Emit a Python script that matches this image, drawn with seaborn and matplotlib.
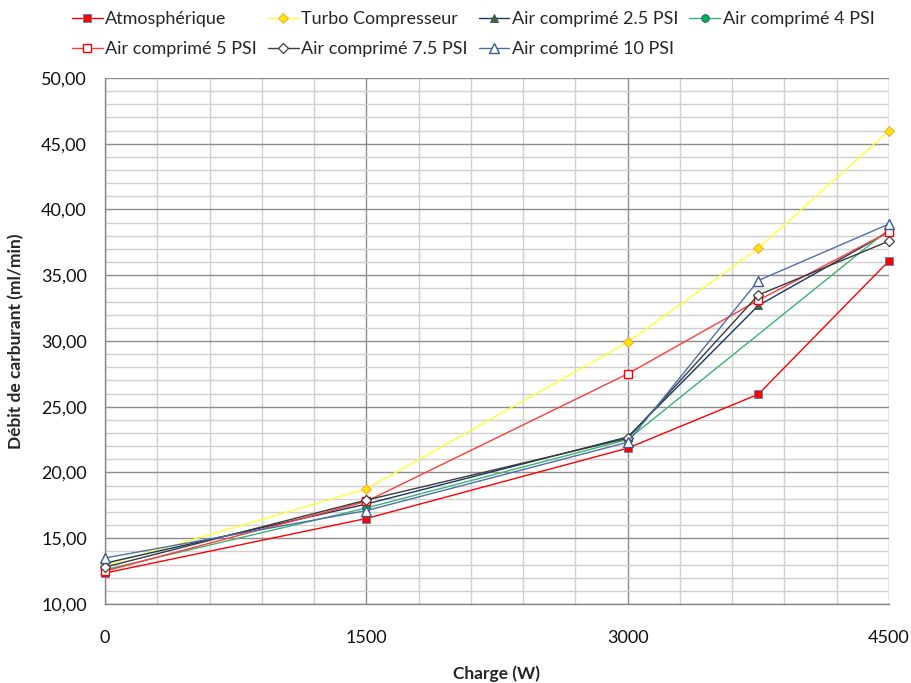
import matplotlib
matplotlib.use("Agg")
import matplotlib.pyplot as plt
from matplotlib.ticker import MultipleLocator, FuncFormatter
import seaborn as sns
import pandas as pd

# ---- data ----
charge = [0, 1500, 3000, 3750, 4500]
atmospherique = [12.35, 16.5, 21.85, 25.95, 36.1]
turbo = [12.95, 18.75, 29.9, 37.05, 46.0]
air_2_5 = [13.1, 17.6, 22.7, 32.7, 38.3]
charge_4 = [0, 1500, 3000, 4500]
air_4 = [12.6, 17.3, 22.5, 38.5]
air_5 = [12.5, 17.8, 27.5, 33.1, 38.3]
air_7_5 = [12.8, 17.9, 22.6, 33.5, 37.6]
air_10 = [13.5, 17.1, 22.3, 34.6, 38.9]

series_names = ["Atmosphérique", "Turbo Compresseur", "Air comprimé 2.5 PSI",
                "Air comprimé 4 PSI", "Air comprimé 5 PSI", "Air comprimé 7.5 PSI",
                "Air comprimé 10 PSI"]
x_ticks = [0, 1500, 3000, 4500]

sns.set_style("white")
plt.rcParams['font.family'] = ['Lato', 'DejaVu Sans']

fig = plt.figure(figsize=(9.12, 6.83), dpi=100)
ax = fig.add_axes([0.1151, 0.1157, 0.8597, 0.7701])

styles = [
    dict(color="#FF0000", marker="s", mfc="#FF0000", mec="#4F81BD", ms=6, mew=0.6),
    dict(color="#FFFF33", marker="D", mfc="#FFE600", mec="#F79646", ms=5, mew=0.6),
    dict(color="#17375E", marker="^", mfc="#4F6228", mec="#1F497D", ms=6, mew=0.6),
    dict(color="#3CB371", marker="o", mfc="#00B050", mec="#1F497D", ms=5.5, mew=0.6),
    dict(color="#FF3B3B", marker="s", mfc="white", mec="#FF0000", ms=5.5, mew=1.0),
    dict(color="#3A3A3A", marker="D", mfc="white", mec="#404040", ms=5.5, mew=0.9),
    dict(color="#4F6FA8", marker="^", mfc="white", mec="#3A5A9A", ms=6.5, mew=1.0),
]
data = [
    (charge, atmospherique), (charge, turbo), (charge, air_2_5), (charge_4, air_4),
    (charge, air_5), (charge, air_7_5), (charge, air_10),
]

handles = []
for name, (xs, ys), st in zip(series_names, data, styles):
    df = pd.DataFrame({"x": xs, "y": ys})
    sns.lineplot(data=df, x="x", y="y", ax=ax, color=st["color"], lw=1.0,
                 marker=st["marker"], markerfacecolor=st["mfc"],
                 markeredgecolor=st["mec"], markersize=st["ms"],
                 markeredgewidth=st["mew"], clip_on=False, label=name,
                 legend=False, zorder=3)
    handles.append(ax.lines[-1])

ax.set_xlim(0, 4500)
ax.set_ylim(10, 50)
ax.xaxis.set_major_locator(MultipleLocator(1500))
ax.xaxis.set_minor_locator(MultipleLocator(300))
ax.yaxis.set_major_locator(MultipleLocator(5))
ax.yaxis.set_minor_locator(MultipleLocator(1))
ax.set_xticks(x_ticks)
ax.yaxis.set_major_formatter(FuncFormatter(lambda v, p: f"{v:.2f}".replace(".", ",")))

ax.set_axisbelow(True)
ax.grid(which="major", color="#8C8C8C", lw=1.0)
ax.grid(which="minor", color="#CFCFCF", lw=1.0)

for s in ["top", "right"]:
    ax.spines[s].set_visible(False)
for s in ["left", "bottom"]:
    ax.spines[s].set_color("#868686")
    ax.spines[s].set_linewidth(1.0)

ax.tick_params(axis="x", which="major", length=5, color="#868686", pad=14,
               labelsize=13, labelcolor="#111111", direction="out")
ax.tick_params(axis="y", which="major", length=5, color="#868686", pad=8,
               labelsize=13, labelcolor="#111111", direction="out")
ax.tick_params(which="minor", length=0)

ax.set_xlabel("Charge (W)", fontsize=12.5, fontweight="bold", labelpad=14)
ax.set_ylabel("Débit de carburant (ml/min)", fontsize=12.5, fontweight="bold", labelpad=12)

# legend ordered row-wise (matplotlib fills column-wise)
order = [0, 4, 1, 5, 2, 6, 3]
leg = fig.legend([handles[i] for i in order], [series_names[i] for i in order],
                 loc="upper left", bbox_to_anchor=(0.067, 1.0), ncol=4,
                 frameon=False, fontsize=13, handlelength=1.7,
                 handletextpad=0.15, columnspacing=0.6, labelspacing=0.8,
                 borderaxespad=0.2)

fig.savefig("out.png", dpi=100, facecolor="white")
